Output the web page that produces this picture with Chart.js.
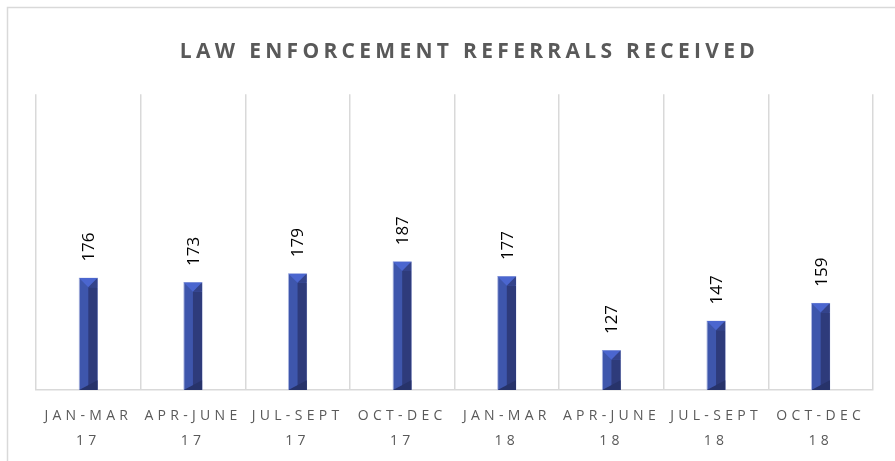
<!DOCTYPE html>
<html>
<head>
<meta charset="utf-8">
<script src="https://cdn.jsdelivr.net/npm/chart.js@4.4.1/dist/chart.umd.min.js"></script>
<style>
  html, body { margin: 0; padding: 0; background: #fff; }
  #wrap { position: relative; width: 895px; height: 461px; }
</style>
</head>
<body>
<div id="wrap"><canvas id="chart" width="895" height="461"></canvas></div>
<script>
// Quarterly law enforcement referrals
var quarters = [
  ['JAN-MAR', '17'], ['APR-JUNE', '17'], ['JUL-SEPT', '17'], ['OCT-DEC', '17'],
  ['JAN-MAR', '18'], ['APR-JUNE', '18'], ['JUL-SEPT', '18'], ['OCT-DEC', '18']
];
var referrals = [176, 173, 179, 187, 177, 127, 147, 159];
var yMin = 100;
var yMax = 300;

var textGray = '#595959';
var lineGray = '#D9D9D9';

// frame + letter spacing for title and axis labels
var framePlugin = {
  id: 'frame',
  afterLayout: function(chart) {
    // title sits a bit right of the plot centre
    chart.titleBlock.left += 15;
    chart.titleBlock.right += 15;
  },
  beforeDraw: function(chart) {
    var ctx = chart.ctx;
    ctx.save();
    ctx.strokeStyle = lineGray;
    ctx.lineWidth = 1.5;
    ctx.beginPath();
    ctx.moveTo(7.5, 470);
    ctx.lineTo(7.5, 7.5);
    ctx.lineTo(895, 7.5);
    ctx.stroke();
    ctx.restore();
    ctx.letterSpacing = '4.3px';
  },
  beforeDatasetsDraw: function(chart) {
    chart.ctx.letterSpacing = '0px';
  }
};

// bevel shading on the bars and rotated value labels
var barDecor = {
  id: 'barDecor',
  afterDatasetsDraw: function(chart) {
    var ctx = chart.ctx;
    var meta = chart.getDatasetMeta(0);
    var floor = chart.chartArea.bottom;
    ctx.save();
    meta.data.forEach(function(bar, i) {
      var left = bar.x - bar.width / 2;
      var right = bar.x + bar.width / 2;
      var top = bar.y;
      var bottom = Math.min(bar.base, floor);
      var mid = bar.x;
      var b = bar.width / 2;
      // darker right half
      ctx.fillStyle = '#2E3B7B';
      ctx.fillRect(mid, top + b, right - mid - 0.5, bottom - top - b);
      // top bevel
      ctx.fillStyle = '#4B66CF';
      ctx.beginPath();
      ctx.moveTo(left + 0.5, top + 0.5);
      ctx.lineTo(right - 0.5, top + 0.5);
      ctx.lineTo(mid, top + b);
      ctx.closePath();
      ctx.fill();
      // right side top triangle
      ctx.fillStyle = '#34438A';
      ctx.beginPath();
      ctx.moveTo(right - 0.5, top + 0.5);
      ctx.lineTo(right - 0.5, top + b);
      ctx.lineTo(mid, top + b);
      ctx.closePath();
      ctx.fill();
      // bottom bevel
      ctx.fillStyle = '#27336A';
      ctx.beginPath();
      ctx.moveTo(left + 0.5, bottom);
      ctx.lineTo(right - 0.5, bottom);
      ctx.lineTo(right - 0.5, bottom - b);
      ctx.closePath();
      ctx.fill();

      // value label
      ctx.save();
      ctx.translate(bar.x + 1, bar.y - 16);
      ctx.rotate(-Math.PI / 2);
      ctx.font = '17px "Open Sans", sans-serif';
      ctx.fillStyle = '#000';
      ctx.textAlign = 'left';
      ctx.textBaseline = 'middle';
      ctx.fillText(String(referrals[i]), 0, 0);
      ctx.restore();
    });
    ctx.restore();
  }
};

new Chart(document.getElementById('chart'), {
  type: 'bar',
  data: {
    labels: quarters,
    datasets: [{
      data: referrals,
      backgroundColor: '#3E56AC',
      borderColor: '#AEB8E2',
      borderWidth: 1,
      categoryPercentage: 0.185,
      barPercentage: 1
    }]
  },
  options: {
    responsive: false,
    animation: false,
    events: [],
    layout: { padding: { left: 36, right: 22, top: 0, bottom: 0 } },
    plugins: {
      legend: { display: false },
      tooltip: { enabled: false },
      title: {
        display: true,
        text: 'LAW ENFORCEMENT REFERRALS RECEIVED',
        color: textGray,
        font: { family: '"Open Sans", sans-serif', size: 21, weight: 'bold', lineHeight: 1.2 },
        padding: { top: 39, bottom: 30 }
      }
    },
    scales: {
      x: {
        grid: { color: lineGray, lineWidth: 1.5, drawTicks: false, offset: true },
        border: { color: lineGray, width: 1.5 },
        ticks: {
          color: textGray,
          font: { family: '"Open Sans", sans-serif', size: 14, lineHeight: 1.75 },
          padding: 14,
          autoSkip: false,
          maxRotation: 0,
          minRotation: 0
        },
        afterFit: function(scale) { scale.height = 71; }
      },
      y: {
        display: false,
        min: yMin,
        max: yMax
      }
    }
  },
  plugins: [framePlugin, barDecor]
});
</script>
</body>
</html>
